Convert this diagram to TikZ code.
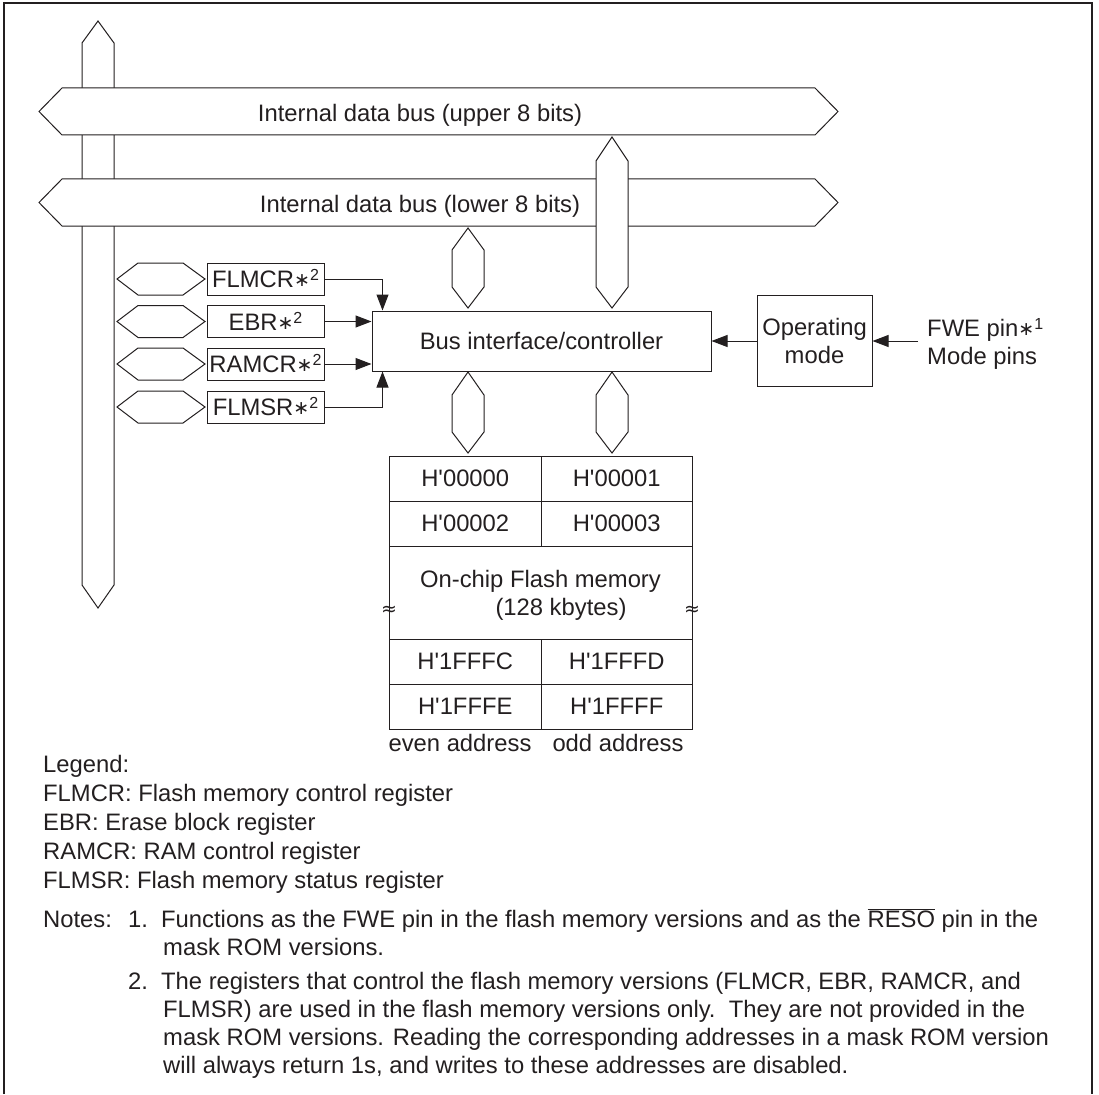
\documentclass[tikz,border=0pt]{standalone}
\usepackage{fontspec}
\setmainfont{Liberation Sans}
\newfontfamily\dejavu{DejaVu Sans}
\usetikzlibrary{arrows.meta}
\definecolor{ink}{RGB}{35,31,32}
\newcommand\noteref[1]{\raisebox{1pt}{\dejavu\fontsize{19}{19}\selectfont ∗}\raisebox{7pt}{\fontsize{16}{16}\selectfont #1}}
\newcommand\hq{\textquotesingle}
\begin{document}
\begin{tikzpicture}[x=1pt,y=-1pt,
  every node/.style={text=ink, font=\fontsize{23.8}{28.7}\selectfont},
  lin/.style={draw=ink, line width=1pt},
  bus/.style={draw=ink, fill=white, line width=1pt, line join=miter},
  regbox/.style={draw=ink, line width=1pt, minimum width=117, minimum height=32, inner sep=0},
  cell/.style={draw=ink, line width=1pt, minimum width=151.5, minimum height=45, inner sep=0},
  arr/.style={draw=ink, line width=1pt, -{Triangle[length=16pt,width=12pt]}},
  txt/.style={anchor=base west, inner sep=0},
  tilde/.style={inner sep=0, font=\dejavu\fontsize{19}{19}\selectfont}
]
\useasboundingbox (0,0) rectangle (1099,1094);
% frame
\draw[draw=ink, line width=1.8pt] (4,1094) -- (4,3) -- (1092,3) -- (1092,1094);

% left vertical bus
\draw[bus] (82,43) -- (98,21) -- (114,43) -- (114,585) -- (98,608) -- (82,585) -- cycle;
% horizontal buses
\draw[bus] (39,111.5) -- (62,88) -- (815,88) -- (838,111.5) -- (815,135) -- (62,135) -- cycle;
\node[anchor=base] (ubus) at (420,122) {Internal data bus (upper 8 bits)};
\draw[bus] (39,202.5) -- (62,179) -- (815,179) -- (838,202.5) -- (815,226) -- (62,226) -- cycle;
\node[anchor=base] (lbus) at (420,212) {Internal data bus (lower 8 bits)};
% tall vertical bus (upper bits)
\draw[bus] (596,161) -- (612,137) -- (628,161) -- (628,287) -- (612,308) -- (596,287) -- cycle;
% short vertical bus (lower bits)
\draw[bus] (452,250) -- (468,228) -- (484,250) -- (484,287) -- (468,308) -- (452,287) -- cycle;

% controller
\node[draw=ink, line width=1pt, minimum width=339, minimum height=60, inner sep=0] (bic) at (541.5,341) {Bus interface/controller};

% buses below controller
\draw[bus] (452,395) -- (468,372) -- (484,395) -- (484,432) -- (468,453) -- (452,432) -- cycle;
\draw[bus] (596,395) -- (612,372) -- (628,395) -- (628,432) -- (612,453) -- (596,432) -- cycle;

% registers
\foreach \c in {279,321.5,364,407}{
  \draw[bus] (117,\c) -- (138,\c-16) -- (183,\c-16) -- (205,\c) -- (183,\c+16) -- (138,\c+16) -- cycle;
}
\node[regbox] (flmcr) at (265.5,279) {FLMCR\noteref{2}};
\node[regbox] (ebr) at (265.5,321.5) {EBR\noteref{2}};
\node[regbox] (ramcr) at (265.5,364) {RAMCR\noteref{2}};
\node[regbox] (flmsr) at (265.5,407) {FLMSR\noteref{2}};

\draw[arr] (flmcr.east) -| ([xshift=11pt]bic.north west);
\draw[arr] (ebr.east) -- (ebr.east -| bic.west);
\draw[arr] (ramcr.east) -- (ramcr.east -| bic.west);
\draw[arr] (flmsr.east) -| ([xshift=11pt]bic.south west);

% operating mode
\node[draw=ink, line width=1pt, minimum width=115, minimum height=91, inner sep=0, align=center] (opm) at (814.5,341) {Operating\\mode};
\draw[arr] (opm.west) -- (opm.west -| bic.east);
\coordinate (fwe) at (918,341);
\draw[arr] (fwe) -- (opm.east);
\node[txt] (fwetxt) at (927,336) {FWE pin\noteref{1}};
\node[txt] (modetxt) at (927,364) {Mode pins};

% memory
\node[cell] (c0) at (465.25,478.5) {H\hq 00000};
\node[cell] (c1) at (616.75,478.5) {H\hq 00001};
\node[cell] (c2) at (465.25,523.5) {H\hq 00002};
\node[cell] (c3) at (616.75,523.5) {H\hq 00003};
\node[draw=ink, line width=1pt, minimum width=303, minimum height=93, inner sep=0] (mid) at (540.5,592.5) {};
\node[anchor=base, inner sep=0] (memtxt) at (540.5,587) {On-chip Flash memory};
\node[anchor=base, inner sep=0] (memsize) at (561,615) {(128 kbytes)};
\node[tilde] (tl) at (389,611) {≈};
\node[tilde] (tr) at (692,611) {≈};
\node[cell] (c4) at (465.25,661.5) {H\hq 1FFFC};
\node[cell] (c5) at (616.75,661.5) {H\hq 1FFFD};
\node[cell] (c6) at (465.25,706.5) {H\hq 1FFFE};
\node[cell] (c7) at (616.75,706.5) {H\hq 1FFFF};
\node[anchor=base, inner sep=0] (even) at (460,751) {even address};
\node[anchor=base, inner sep=0] (odd) at (618,751) {odd address};

% legend
\node[txt] (lg0) at (43,772) {Legend:};
\node[txt] (lg1) at (43,801) {FLMCR: Flash memory control register};
\node[txt] (lg2) at (43,830) {EBR: Erase block register};
\node[txt] (lg3) at (43,859) {RAMCR: RAM control register};
\node[txt] (lg4) at (43,888) {FLMSR: Flash memory status register};

% notes
\node[txt] (nt) at (43,927) {Notes:};
\node[txt] (n1) at (128,927) {1.};
\node[txt] (n1a) at (161,927) {Functions as the FWE pin in the flash memory versions and as the $\overline{\mbox{RESO}}$ pin in the};
\node[txt] (n1b) at (163,955) {mask ROM versions.};
\node[txt] (n2) at (128,989) {2.};
\node[txt] (n2a) at (161,989) {The registers that control the flash memory versions (FLMCR, EBR, RAMCR, and};
\node[txt] (n2b) at (163,1017) {FLMSR) are used in the flash memory versions only.\ \ They are not provided in the};
\node[txt] (n2c) at (163,1045) {mask ROM versions. Reading the corresponding addresses in a mask ROM version};
\node[txt] (n2d) at (163,1073) {will always return 1s, and writes to these addresses are disabled.};
\end{tikzpicture}
\end{document}
